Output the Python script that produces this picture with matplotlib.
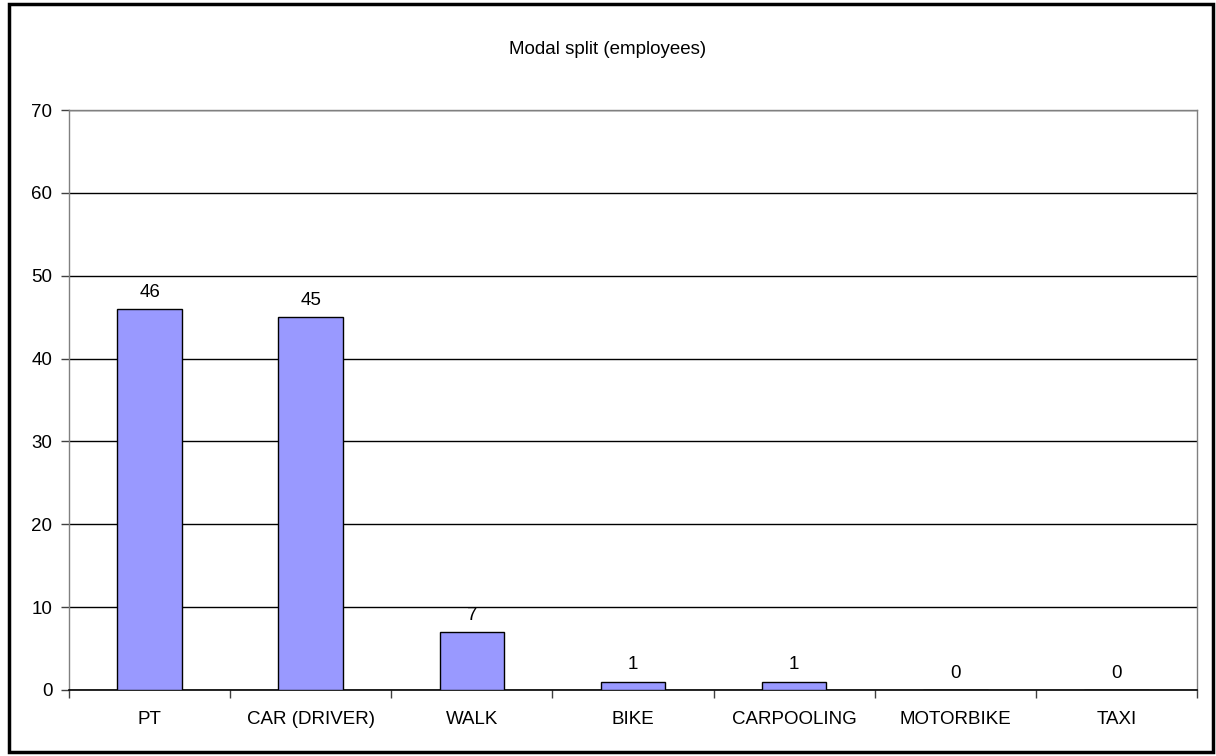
import matplotlib; matplotlib.use('Agg')
import matplotlib.pyplot as plt
from matplotlib.patches import Rectangle
import numpy as np

categories = ['PT', 'CAR (DRIVER)', 'WALK', 'BIKE', 'CARPOOLING', 'MOTORBIKE', 'TAXI']
values = [46, 45, 7, 1, 1, 0, 0]
y_ticks = [0, 10, 20, 30, 40, 50, 60, 70]

plt.rcParams['font.family'] = ['Liberation Sans', 'DejaVu Sans']
plt.rcParams['font.size'] = 13.5

W, H = 1216, 756
fig = plt.figure(figsize=(W / 100, H / 100), dpi=100)
ax = fig.add_axes([69 / W, 1 - 690 / H, (1197 - 69) / W, (690 - 110) / H])

x = np.arange(len(categories))
bars = ax.bar(x, values, width=0.4, color='#9999FF', edgecolor='black', linewidth=1, zorder=3)

# value labels above bars
for xi, v in zip(x, values):
    ax.annotate(f'{v}', (xi, v), xytext=(0, 6), textcoords='offset points',
                ha='center', va='bottom')

ax.set_xlim(-0.5, len(categories) - 0.5)
ax.set_ylim(0, 70)
ax.set_yticks(y_ticks)
ax.yaxis.grid(True, color='black', linewidth=1, zorder=0)
ax.set_axisbelow(True)

# category labels centred, tick marks between categories
ax.set_xticks(x)
ax.set_xticklabels(categories)
ax.tick_params(axis='x', length=0, pad=15)
ax.set_xticks(np.arange(-0.5, len(categories)), minor=True)
ax.tick_params(axis='x', which='minor', length=6, width=1, color='#404040', direction='out')
ax.tick_params(axis='y', length=6, width=1, color='#404040', direction='out', pad=6)

for side in ('left', 'right', 'top'):
    ax.spines[side].set_color('#808080')
    ax.spines[side].set_linewidth(1)
ax.spines['bottom'].set_color('black')
ax.spines['bottom'].set_linewidth(1.2)

fig.text(608 / W, 1 - 50 / H, 'Modal split (employees)', ha='center', va='center')

# outer chart border
fig.patches.append(Rectangle((9 / W, 4 / H), (1213 - 9) / W, (752 - 4) / H,
                             transform=fig.transFigure, fill=False,
                             edgecolor='black', linewidth=2.5))

fig.savefig('out.png', dpi=100)
plt.close(fig)
